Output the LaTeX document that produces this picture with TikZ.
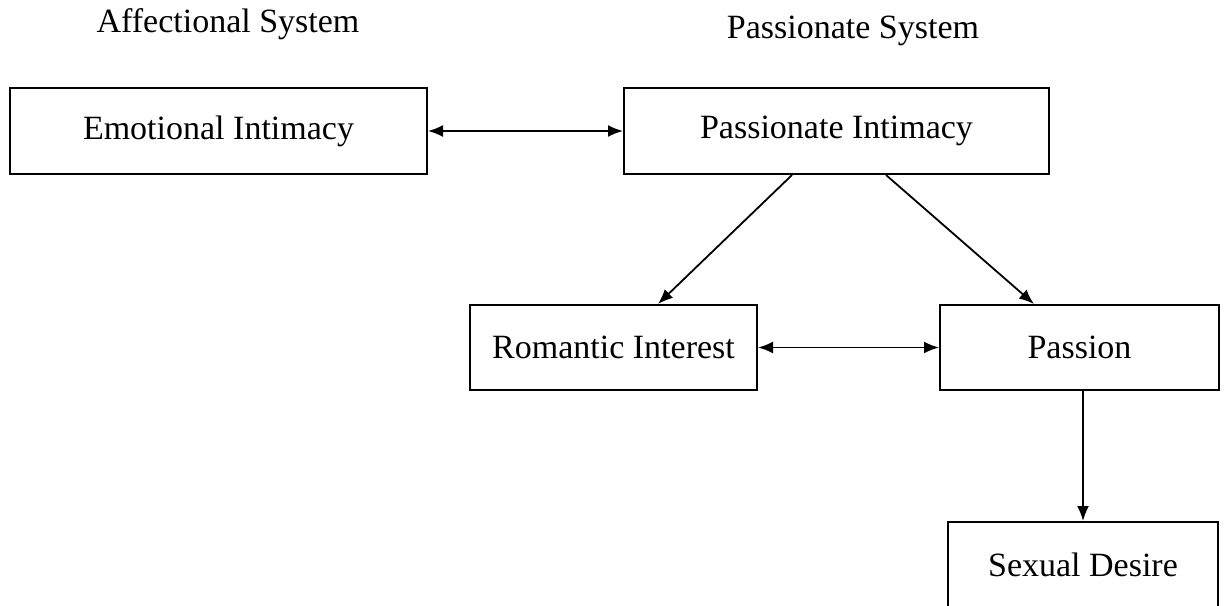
\documentclass[tikz,border=0pt]{standalone}
\usepackage{fontspec}
\setmainfont{Liberation Serif}
\usetikzlibrary{positioning,arrows.meta}

\tikzset{
  box/.style={draw, rectangle, line width=2pt, minimum height=86pt, inner sep=0pt},
  heading/.style={anchor=base, inner sep=0pt},
  arr/.style={-{Latex[length=15pt,width=12pt]}},
  biarr/.style={{Latex[length=15pt,width=12pt]}-{Latex[length=15pt,width=12pt]}}
}

\begin{document}
\begin{tikzpicture}[line width=1.8pt, every node/.style={font=\fontsize{34}{40}\selectfont}]
\useasboundingbox (0,0) rectangle (1225pt,-605pt);

\node[heading] (affsys) at (228pt,-32pt) {Affectional System};
\node[heading] (passys) at (853pt,-38pt) {Passionate System};

\node[box, minimum width=417pt] (EI) at (218.5pt,-131pt) {Emotional Intimacy};
\node[box, minimum width=425pt] (PI) [right=195pt of EI] {Passionate Intimacy};
\node[box, minimum width=287pt, minimum height=85pt] (RI) at (613.5pt,-347.5pt) {Romantic Interest};
\node[box, minimum width=279pt, minimum height=85pt] (Passion) [right=181pt of RI] {Passion};
\node[box, minimum width=270pt] (SD) [below=130pt of Passion, xshift=3.5pt] {Sexual Desire};

\draw[biarr] (EI) -- (PI);
\draw[biarr] (RI) -- (Passion);
\draw[arr] ([xshift=-44.5pt]PI.south) -- ([xshift=44.5pt]RI.north);
\draw[arr] ([xshift=49.5pt]PI.south) -- ([xshift=-45.5pt]Passion.north);
\draw[arr] (Passion.south -| SD.north) -- (SD.north);
\end{tikzpicture}
\end{document}
